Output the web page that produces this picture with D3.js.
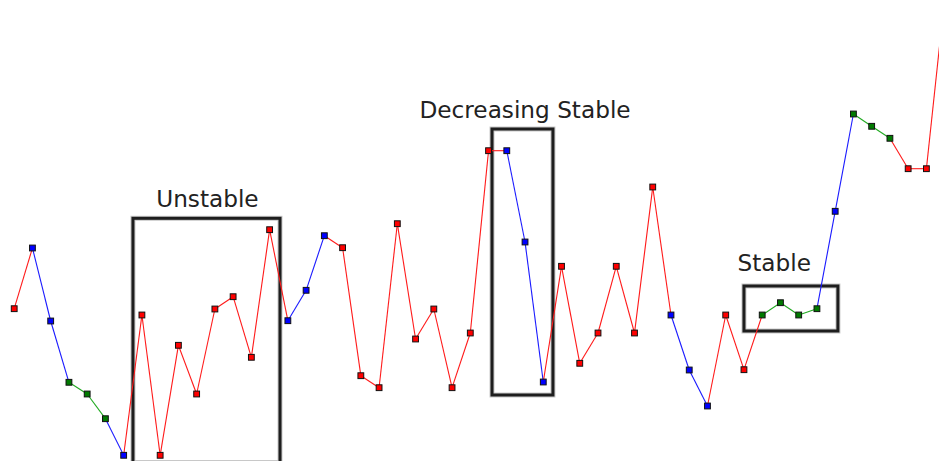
<!DOCTYPE html>
<html>
<head>
<meta charset="utf-8">
<script src="https://cdn.jsdelivr.net/npm/d3@7"></script>
<style>
  html, body { margin: 0; padding: 0; background: #fff; }
  svg { display: block; }
</style>
</head>
<body>
<svg id="chart" width="939" height="461"></svg>
<script>
// ---- data ----
const values = [152.3, 213, 140, 78.7, 67, 42.3, 5.7, 146, 5.7, 115.7,
                67, 152, 164.3, 103.7, 231.3, 140.3, 170.7, 225.3, 213.3, 85.3,
                73.3, 237.3, 122, 152, 73.3, 128, 310.3, 310.3, 219, 79,
                194.7, 97.7, 128, 194.7, 128, 274, 146, 91, 55, 146,
                91.3, 146, 158.3, 146, 152.3, 249.7, 347, 334.7, 322.7, 292.3,
                292.3, 463];
// point class: R = unstable, B = trend, G = stable
const classes = ["R","B","B","G","G","G","B","R","R","R",
                 "R","R","R","R","R","B","B","B","R","R",
                 "R","R","R","R","R","R","R","B","B","B",
                 "R","R","R","R","R","R","B","B","B","R",
                 "R","G","G","G","G","B","G","G","G","R",
                 "R","R"];
const boxLabels = ["Unstable", "Decreasing Stable", "Stable"];
const boxIdxFrom = [6.51, 26.19, 40.0];
const boxIdxTo   = [14.57, 29.53, 45.15];
const boxValTop  = [242.7, 332, 175];
const boxValBot  = [-1.5, 66, 130];
const labelIdx   = [10.59, 28.0, 41.66];
const labelVal   = [254.3, 342.7, 190];

// ---- drawing ----
const svg = d3.select("#chart");
const x = d3.scaleLinear().domain([0, 50]).range([14.2, 926.4]);
const y = d3.scaleLinear().domain([0, 461]).range([461, 0]);

const fillOf = { R: "#ff0000", B: "#0000ff", G: "#007a00" };
const lineOf = { R: "#ff1a1a", B: "#1a1aff", G: "#22aa22" };
const rank = { R: 3, B: 2, G: 1 };

// boxes (behind)
const boxes = boxLabels.map((l, i) => ({
  label: l, i0: boxIdxFrom[i], i1: boxIdxTo[i], vt: boxValTop[i], vb: boxValBot[i],
  li: labelIdx[i], lv: labelVal[i]
}));
const bg = svg.append("g");
boxes.forEach(b => {
  const x0 = x(b.i0), x1 = x(b.i1), y0 = y(b.vt), y1 = y(b.vb);
  bg.append("rect").attr("x", x0).attr("y", y0).attr("width", x1 - x0).attr("height", y1 - y0)
    .attr("fill", "none").attr("stroke", "#c8c8c8").attr("stroke-width", 5);
  bg.append("rect").attr("x", x0).attr("y", y0).attr("width", x1 - x0).attr("height", y1 - y0)
    .attr("fill", "none").attr("stroke", "#1e1e1e").attr("stroke-width", 3);
  bg.append("text").attr("x", x(b.li)).attr("y", y(b.lv))
    .attr("text-anchor", "middle")
    .attr("font-family", "DejaVu Sans, sans-serif").attr("font-size", 23.2)
    .attr("fill", "#222").text(b.label);
});

// segments
const segs = d3.range(values.length - 1).map(i => {
  const a = classes[i], c = classes[i + 1];
  return { i, cls: rank[a] >= rank[c] ? a : c };
});
svg.append("g").selectAll("line").data(segs).join("line")
  .attr("x1", d => x(d.i)).attr("y1", d => y(values[d.i]))
  .attr("x2", d => x(d.i + 1)).attr("y2", d => y(values[d.i + 1]))
  .attr("stroke", d => lineOf[d.cls]).attr("stroke-width", 1.1);

// markers
const s = 5.8;
svg.append("g").selectAll("rect").data(values.map((v, i) => ({ v, i, c: classes[i] })))
  .join("rect")
  .attr("x", d => x(d.i) - s / 2).attr("y", d => y(d.v) - s / 2)
  .attr("width", s).attr("height", s)
  .attr("fill", d => fillOf[d.c]).attr("stroke", "#111").attr("stroke-width", 1);
</script>
</body>
</html>
